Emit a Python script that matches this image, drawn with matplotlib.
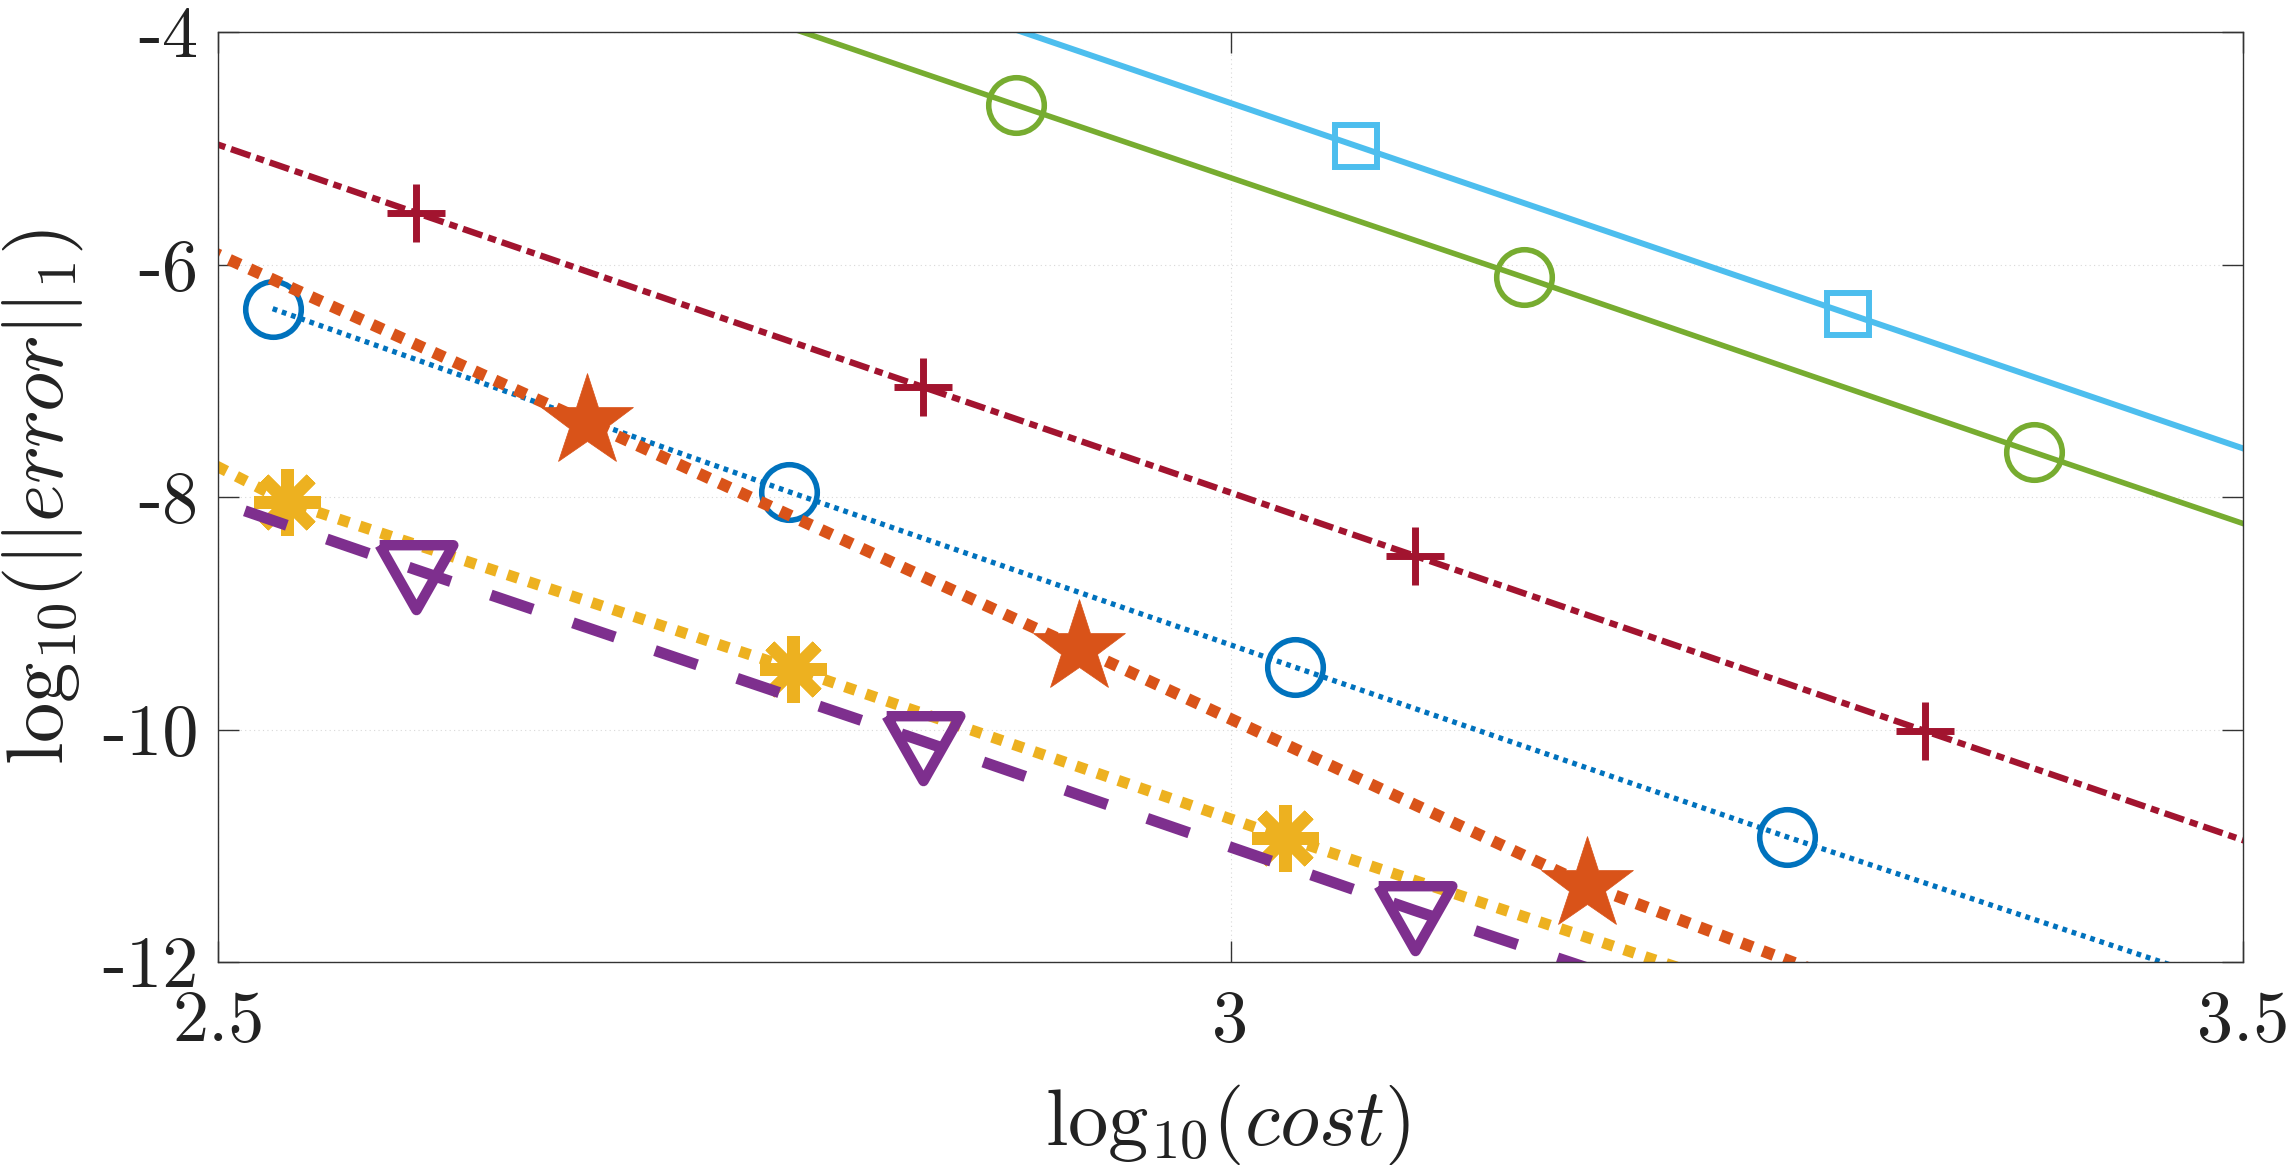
import matplotlib
matplotlib.use("Agg")
import matplotlib.pyplot as plt
from matplotlib.markers import MarkerStyle

plt.rcParams['mathtext.fontset'] = 'cm'
plt.rcParams['axes.unicode_minus'] = False

# ---- data (log10 cost, log10 error) ----
blue_x = [2.527, 2.782, 3.032, 3.275, 3.52]
blue_y = [-6.38, -7.955, -9.465, -10.925, -12.35]

orange_x = [2.435, 2.682, 2.925, 3.176, 3.43]
orange_y = [-5.40, -7.354, -9.30, -11.336, -13.0]

yellow_x = [2.29, 2.534, 2.784, 3.027, 3.27]
yellow_y = [-5.87, -8.043, -9.479, -10.93, -12.33]

purple_x = [2.35, 2.598, 2.848, 3.091, 3.34]
purple_y = [-7.14, -8.627, -10.10, -11.557, -13.0]

green_x = [2.644, 2.894, 3.145, 3.397, 3.647]
green_y = [-3.14, -4.627, -6.11, -7.617, -9.10]

cyan_x = [2.819, 3.062, 3.305, 3.548]
cyan_y = [-3.535, -4.979, -6.423, -7.867]

red_x = [2.350, 2.598, 2.848, 3.091, 3.343, 3.59]
red_y = [-4.07, -5.556, -7.053, -8.506, -10.013, -11.49]

xticks = [2.5, 3, 3.5]
xticklabels = ['2.5', '3', '3.5']
yticks = [-12, -10, -8, -6, -4]
yticklabels = ['-12', '-10', '-8', '-6', '-4']

W, H = 2290, 1165
fig = plt.figure(figsize=(W / 100, H / 100), dpi=100)
ax = fig.add_axes([218 / W, (H - 962) / H, 2025 / W, 930 / H])

tri = MarkerStyle([(-33.5, 23), (33.5, 23), (0, -36), (-33.5, 23)], joinstyle='miter')

ax.plot(blue_x, blue_y, color='#0072BD', lw=3.8, ls=(0, (0.9, 0.95)),
        marker='o', ms=40, mfc='none', mew=4.0, mec='#0072BD')
ax.plot(orange_x, orange_y, color='#D95319', lw=8.5, ls=(0, (1, 0.9)),
        marker='*', ms=70, mfc='#D95319', mec='#D95319', mew=0.5)
ax.plot(yellow_x, yellow_y, color='#EDB120', lw=8.0, ls=(0, (1, 1.0)),
        marker=(8, 2, 0), ms=48, mec='#EDB120', mew=9)
ax.plot(purple_x, purple_y, color='#7E2F8E', lw=8.0, ls=(0, (4.0, 3.8)),
        marker=tri, ms=57, mfc='none', mec='#7E2F8E', mew=7.5)
ax.plot(green_x, green_y, color='#77AC30', lw=4.0, ls='-',
        marker='o', ms=40, mfc='none', mec='#77AC30', mew=4.0)
ax.plot(cyan_x, cyan_y, color='#4DBEEE', lw=4.3, ls='-',
        marker='s', ms=30, mfc='none', mec='#4DBEEE', mew=4.3)
ax.plot(red_x, red_y, color='#A2142F', lw=4.6, ls=(0, (3.2, 0.95, 1.3, 0.95)),
        marker='+', ms=42, mec='#A2142F', mew=5)

ax.set_xlim(2.5, 3.5)
ax.set_ylim(-12, -4)
ax.set_xticks(xticks)
ax.set_xticklabels(xticklabels, fontfamily='cmr10', fontsize=52)
ax.set_yticks(yticks)
ax.set_yticklabels(yticklabels, fontfamily='cmr10', fontsize=52)
ax.tick_params(direction='in', length=15, width=1.0, color='#333333',
               top=True, right=True, labelcolor='#222222')
ax.tick_params(axis='x', pad=20)
ax.tick_params(axis='y', pad=14)
for s in ax.spines.values():
    s.set_color('#333333')
    s.set_linewidth(1.0)
ax.grid(True, linestyle=(0, (1, 3)), color='#d8d8d8', linewidth=0.8)
ax.set_axisbelow(True)

fig.text(1228 / W, 1 - 1125 / H, r'$\mathrm{log}_{10}(cost)$', fontsize=58,
         ha='center', va='center', color='#222222')
fig.text(43 / W, 1 - 497 / H, r'$\mathrm{log}_{10}(||error||_1)$', fontsize=58,
         ha='center', va='center', rotation=90, color='#222222')

fig.savefig('out.png', dpi=100, facecolor='white')
